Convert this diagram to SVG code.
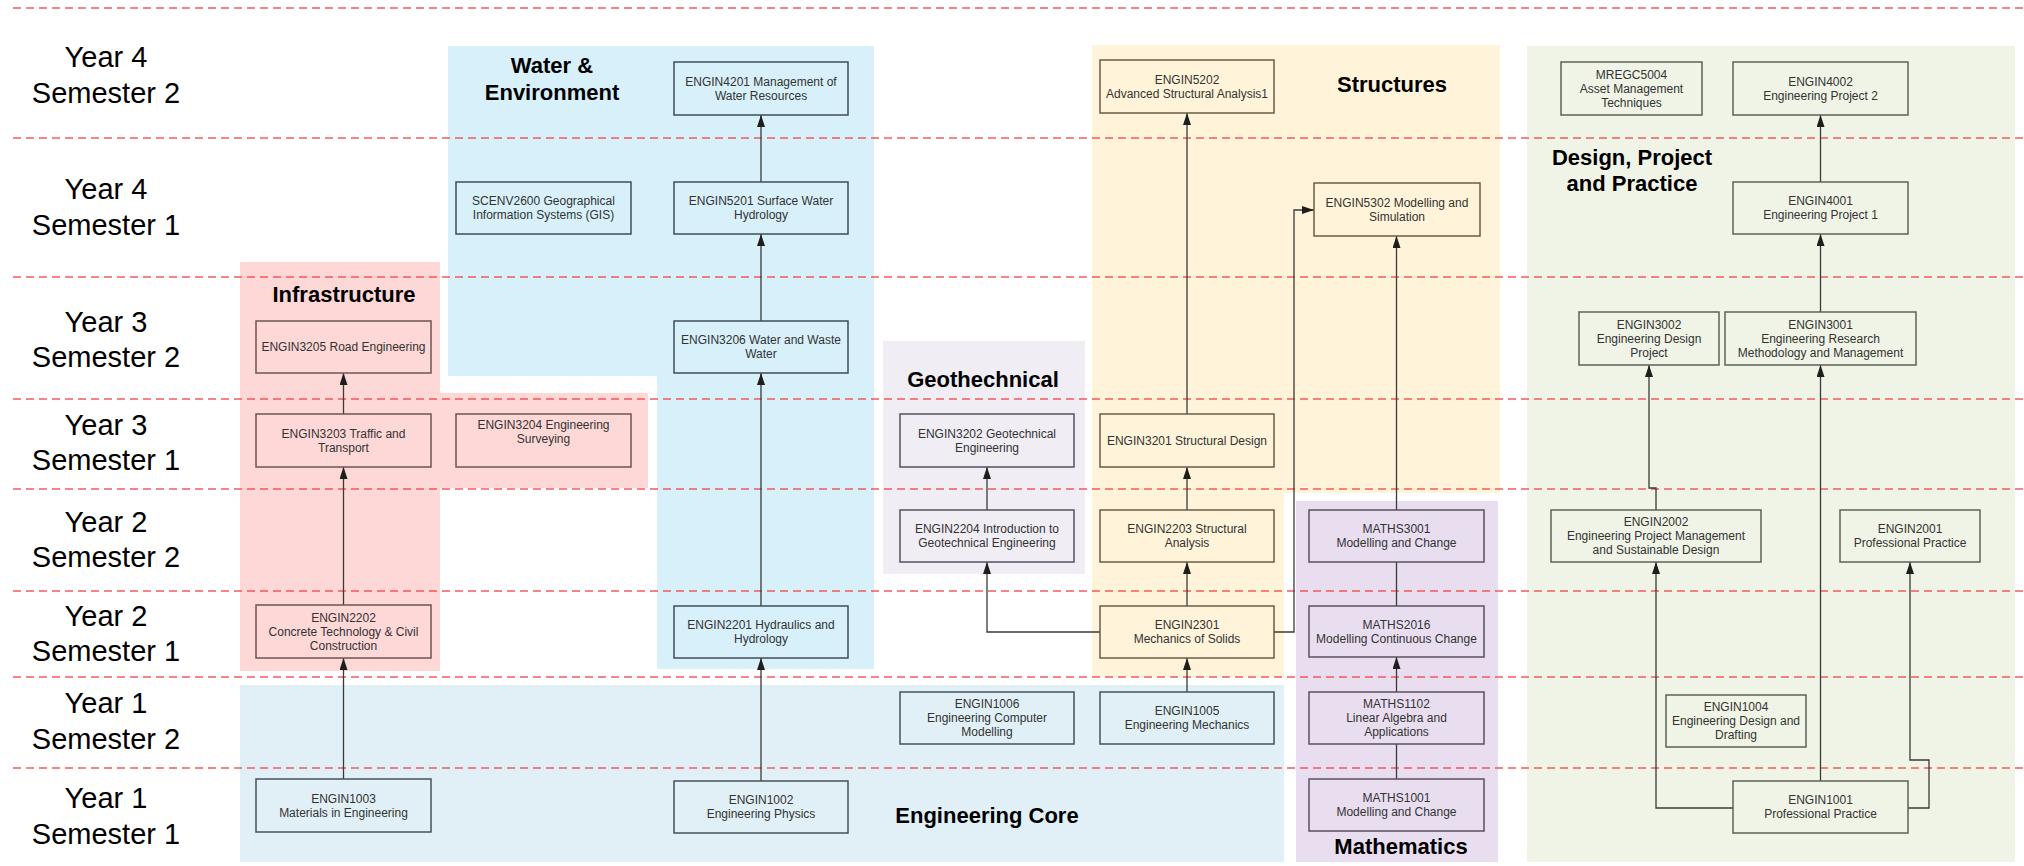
<svg xmlns="http://www.w3.org/2000/svg" width="2024" height="866" viewBox="0 0 2024 866">
<style>
.lane{stroke:none}
.row{font-family:"Liberation Sans",Arial,sans-serif;font-size:29px;fill:#000;text-anchor:middle}
.lbl{font-family:"Liberation Sans",Arial,sans-serif;font-size:22px;font-weight:bold;fill:#000;text-anchor:middle}
.sep{stroke:#f24a4a;stroke-width:1.5;stroke-dasharray:8 5;fill:none;opacity:0.9}
.n rect{stroke-width:1.5}
.n text{font-family:"Liberation Sans",Arial,sans-serif;font-size:12px;fill:#333;text-anchor:middle}
.pk rect{fill:#fed7d7;stroke:#6e5454}
.wb rect{fill:#d7f0fa;stroke:#3f4d57}
.gt rect{fill:#f0edf4;stroke:#55505c}
.st rect{fill:#fff4d9;stroke:#655e45}
.cb rect{fill:#e1f0f6;stroke:#44525a}
.ma rect{fill:#e9deef;stroke:#5a5060}
.dg rect{fill:#f0f4e6;stroke:#5d6258}
.c path{fill:none;stroke:#3a3a36;stroke-width:1.3}
</style>
<defs>
<marker id="ah" viewBox="0 0 12 8" refX="12" refY="4" markerWidth="12" markerHeight="8" markerUnits="userSpaceOnUse" orient="auto">
<path d="M0,0 L12,4 L0,8 z" fill="#1e1e1a"/>
</marker>
</defs>
<rect width="2024" height="866" fill="#fff"/>
<g id="lanes">
<path class="lane" d="M240,262 H440 V393 H648 V488 H440 V671 H240 Z" fill="#fed7d7"/>
<path class="lane" d="M448,46 H874 V669 H657 V376 H448 Z" fill="#d7f0fa"/>
<rect class="lane" x="883" y="341" width="202" height="233" fill="#f0edf4"/>
<path class="lane" d="M1092,45 H1500 V493 H1284 V677 H1092 Z" fill="#fff4d9"/>
<rect class="lane" x="240" y="685" width="1044" height="177" fill="#e1f0f6"/>
<rect class="lane" x="1296" y="501" width="202" height="361" fill="#e9deef"/>
<rect class="lane" x="1527" y="46" width="488" height="816" fill="#f0f4e6"/>
</g>
<g id="separators">
<path class="sep" d="M13,8 H2024 M13,138 H2024 M13,277 H2024 M13,399 H2024 M13,489 H2024 M13,591 H2024 M13,677 H2024 M13,768 H2024"/>
</g>
<g id="row-labels">
<text class="row" x="106" y="67">Year 4</text><text class="row" x="106" y="103">Semester 2</text>
<text class="row" x="106" y="199">Year 4</text><text class="row" x="106" y="235">Semester 1</text>
<text class="row" x="106" y="332">Year 3</text><text class="row" x="106" y="367">Semester 2</text>
<text class="row" x="106" y="435">Year 3</text><text class="row" x="106" y="470">Semester 1</text>
<text class="row" x="106" y="532">Year 2</text><text class="row" x="106" y="567">Semester 2</text>
<text class="row" x="106" y="626">Year 2</text><text class="row" x="106" y="661">Semester 1</text>
<text class="row" x="106" y="713">Year 1</text><text class="row" x="106" y="749">Semester 2</text>
<text class="row" x="106" y="808">Year 1</text><text class="row" x="106" y="844">Semester 1</text>
</g>
<g id="lane-labels">
<text class="lbl" x="552" y="73">Water &amp;</text><text class="lbl" x="552" y="100">Environment</text>
<text class="lbl" x="344" y="302">Infrastructure</text>
<text class="lbl" x="983" y="387">Geothechnical</text>
<text class="lbl" x="1392" y="92">Structures</text>
<text class="lbl" x="987" y="823">Engineering Core</text>
<text class="lbl" x="1401" y="854">Mathematics</text>
<text class="lbl" x="1632" y="165">Design, Project</text><text class="lbl" x="1632" y="191">and Practice</text>
</g>
<g id="connectors" class="c">
<path d="M343.5,779 V658" marker-end="url(#ah)"/>
<path d="M343.5,605 V467" marker-end="url(#ah)"/>
<path d="M343.5,414 V373" marker-end="url(#ah)"/>
<path d="M761,781 V658" marker-end="url(#ah)"/>
<path d="M761,606 V373" marker-end="url(#ah)"/>
<path d="M761,321 V234" marker-end="url(#ah)"/>
<path d="M761,182 V115" marker-end="url(#ah)"/>
<path d="M987,510 V467" marker-end="url(#ah)"/>
<path d="M1100,632 H987 V562" marker-end="url(#ah)"/>
<path d="M1187,692 V658" marker-end="url(#ah)"/>
<path d="M1187,606 V562" marker-end="url(#ah)"/>
<path d="M1187,510 V467" marker-end="url(#ah)"/>
<path d="M1187,414 V113" marker-end="url(#ah)"/>
<path d="M1274,632 H1294 V210 H1314" marker-end="url(#ah)"/>
<path d="M1396.5,510 V236" marker-end="url(#ah)"/>
<path d="M1396.5,606 V562"/>
<path d="M1396.5,692 V657" marker-end="url(#ah)"/>
<path d="M1396.5,779 V744"/>
<path d="M1733,808 H1656 V562" marker-end="url(#ah)"/>
<path d="M1656,510 V488 H1649 V365" marker-end="url(#ah)"/>
<path d="M1820.5,781 V365" marker-end="url(#ah)"/>
<path d="M1820.5,312 V234" marker-end="url(#ah)"/>
<path d="M1820.5,182 V115" marker-end="url(#ah)"/>
<path d="M1908,808 H1929 V760 H1910 V562" marker-end="url(#ah)"/>
</g>
<g id="n-ENGIN4201" class="n wb"><rect x="674" y="62" width="174" height="53"/><text x="761" y="85.5">ENGIN4201 Management of</text><text x="761" y="99.5">Water Resources</text></g>
<g id="n-SCENV2600" class="n wb"><rect x="456" y="182" width="175" height="52"/><text x="543.5" y="205">SCENV2600 Geographical</text><text x="543.5" y="219">Information Systems (GIS)</text></g>
<g id="n-ENGIN5201" class="n wb"><rect x="674" y="182" width="174" height="52"/><text x="761" y="205">ENGIN5201 Surface Water</text><text x="761" y="219">Hydrology</text></g>
<g id="n-ENGIN3206" class="n wb"><rect x="674" y="321" width="174" height="52"/><text x="761" y="344">ENGIN3206 Water and Waste</text><text x="761" y="358">Water</text></g>
<g id="n-ENGIN2201" class="n wb"><rect x="674" y="606" width="174" height="52"/><text x="761" y="629">ENGIN2201 Hydraulics and</text><text x="761" y="643">Hydrology</text></g>
<g id="n-ENGIN3205" class="n pk"><rect x="256" y="321" width="175" height="52"/><text x="343.5" y="351">ENGIN3205 Road Engineering</text></g>
<g id="n-ENGIN3203" class="n pk"><rect x="256" y="414" width="175" height="53"/><text x="343.5" y="437.5">ENGIN3203 Traffic and</text><text x="343.5" y="451.5">Transport</text></g>
<g id="n-ENGIN3204" class="n pk"><rect x="456" y="414" width="175" height="53"/><text x="543.5" y="429">ENGIN3204 Engineering</text><text x="543.5" y="443">Surveying</text></g>
<g id="n-ENGIN2202" class="n pk"><rect x="256" y="605" width="175" height="53"/><text x="343.5" y="621.5">ENGIN2202</text><text x="343.5" y="635.5">Concrete Technology &amp; Civil</text><text x="343.5" y="649.5">Construction</text></g>
<g id="n-ENGIN3202" class="n gt"><rect x="900" y="414" width="174" height="53"/><text x="987" y="437.5">ENGIN3202 Geotechnical</text><text x="987" y="451.5">Engineering</text></g>
<g id="n-ENGIN2204" class="n gt"><rect x="900" y="510" width="174" height="52"/><text x="987" y="533">ENGIN2204 Introduction to</text><text x="987" y="547">Geotechnical Engineering</text></g>
<g id="n-ENGIN5202" class="n st"><rect x="1100" y="60" width="174" height="53"/><text x="1187" y="83.5">ENGIN5202</text><text x="1187" y="97.5">Advanced Structural Analysis1</text></g>
<g id="n-ENGIN5302" class="n st"><rect x="1314" y="183" width="166" height="53"/><text x="1397" y="206.5">ENGIN5302 Modelling and</text><text x="1397" y="220.5">Simulation</text></g>
<g id="n-ENGIN3201" class="n st"><rect x="1100" y="414" width="174" height="53"/><text x="1187" y="444.5">ENGIN3201 Structural Design</text></g>
<g id="n-ENGIN2203" class="n st"><rect x="1100" y="510" width="174" height="52"/><text x="1187" y="533">ENGIN2203 Structural</text><text x="1187" y="547">Analysis</text></g>
<g id="n-ENGIN2301" class="n st"><rect x="1100" y="606" width="174" height="52"/><text x="1187" y="629">ENGIN2301</text><text x="1187" y="643">Mechanics of Solids</text></g>
<g id="n-ENGIN1006" class="n cb"><rect x="900" y="692" width="174" height="52"/><text x="987" y="708">ENGIN1006</text><text x="987" y="722">Engineering Computer</text><text x="987" y="736">Modelling</text></g>
<g id="n-ENGIN1005" class="n cb"><rect x="1100" y="692" width="174" height="52"/><text x="1187" y="715">ENGIN1005</text><text x="1187" y="729">Engineering Mechanics</text></g>
<g id="n-ENGIN1003" class="n cb"><rect x="256" y="779" width="175" height="53"/><text x="343.5" y="802.5">ENGIN1003</text><text x="343.5" y="816.5">Materials in Engineering</text></g>
<g id="n-ENGIN1002" class="n cb"><rect x="674" y="781" width="174" height="52"/><text x="761" y="804">ENGIN1002</text><text x="761" y="818">Engineering Physics</text></g>
<g id="n-MATHS3001" class="n ma"><rect x="1309" y="510" width="175" height="52"/><text x="1396.5" y="533">MATHS3001</text><text x="1396.5" y="547">Modelling and Change</text></g>
<g id="n-MATHS2016" class="n ma"><rect x="1309" y="606" width="175" height="51"/><text x="1396.5" y="628.5">MATHS2016</text><text x="1396.5" y="642.5">Modelling Continuous Change</text></g>
<g id="n-MATHS1102" class="n ma"><rect x="1309" y="692" width="175" height="52"/><text x="1396.5" y="708">MATHS1102</text><text x="1396.5" y="722">Linear Algebra and</text><text x="1396.5" y="736">Applications</text></g>
<g id="n-MATHS1001" class="n ma"><rect x="1309" y="779" width="175" height="52"/><text x="1396.5" y="802">MATHS1001</text><text x="1396.5" y="816">Modelling and Change</text></g>
<g id="n-MREGC5004" class="n dg"><rect x="1561" y="62" width="141" height="53"/><text x="1631.5" y="78.5">MREGC5004</text><text x="1631.5" y="92.5">Asset Management</text><text x="1631.5" y="106.5">Techniques</text></g>
<g id="n-ENGIN4002" class="n dg"><rect x="1733" y="62" width="175" height="53"/><text x="1820.5" y="85.5">ENGIN4002</text><text x="1820.5" y="99.5">Engineering Project 2</text></g>
<g id="n-ENGIN4001" class="n dg"><rect x="1733" y="182" width="175" height="52"/><text x="1820.5" y="205">ENGIN4001</text><text x="1820.5" y="219">Engineering Project 1</text></g>
<g id="n-ENGIN3002" class="n dg"><rect x="1579" y="312" width="140" height="53"/><text x="1649" y="328.5">ENGIN3002</text><text x="1649" y="342.5">Engineering Design</text><text x="1649" y="356.5">Project</text></g>
<g id="n-ENGIN3001" class="n dg"><rect x="1725" y="312" width="191" height="53"/><text x="1820.5" y="328.5">ENGIN3001</text><text x="1820.5" y="342.5">Engineering Research</text><text x="1820.5" y="356.5">Methodology and Management</text></g>
<g id="n-ENGIN2002" class="n dg"><rect x="1551" y="510" width="210" height="52"/><text x="1656" y="526">ENGIN2002</text><text x="1656" y="540">Engineering Project Management</text><text x="1656" y="554">and Sustainable Design</text></g>
<g id="n-ENGIN2001" class="n dg"><rect x="1840" y="510" width="140" height="52"/><text x="1910" y="533">ENGIN2001</text><text x="1910" y="547">Professional Practice</text></g>
<g id="n-ENGIN1004" class="n dg"><rect x="1666" y="695" width="140" height="52"/><text x="1736" y="711">ENGIN1004</text><text x="1736" y="725">Engineering Design and</text><text x="1736" y="739">Drafting</text></g>
<g id="n-ENGIN1001" class="n dg"><rect x="1733" y="781" width="175" height="52"/><text x="1820.5" y="804">ENGIN1001</text><text x="1820.5" y="818">Professional Practice</text></g>
</svg>
